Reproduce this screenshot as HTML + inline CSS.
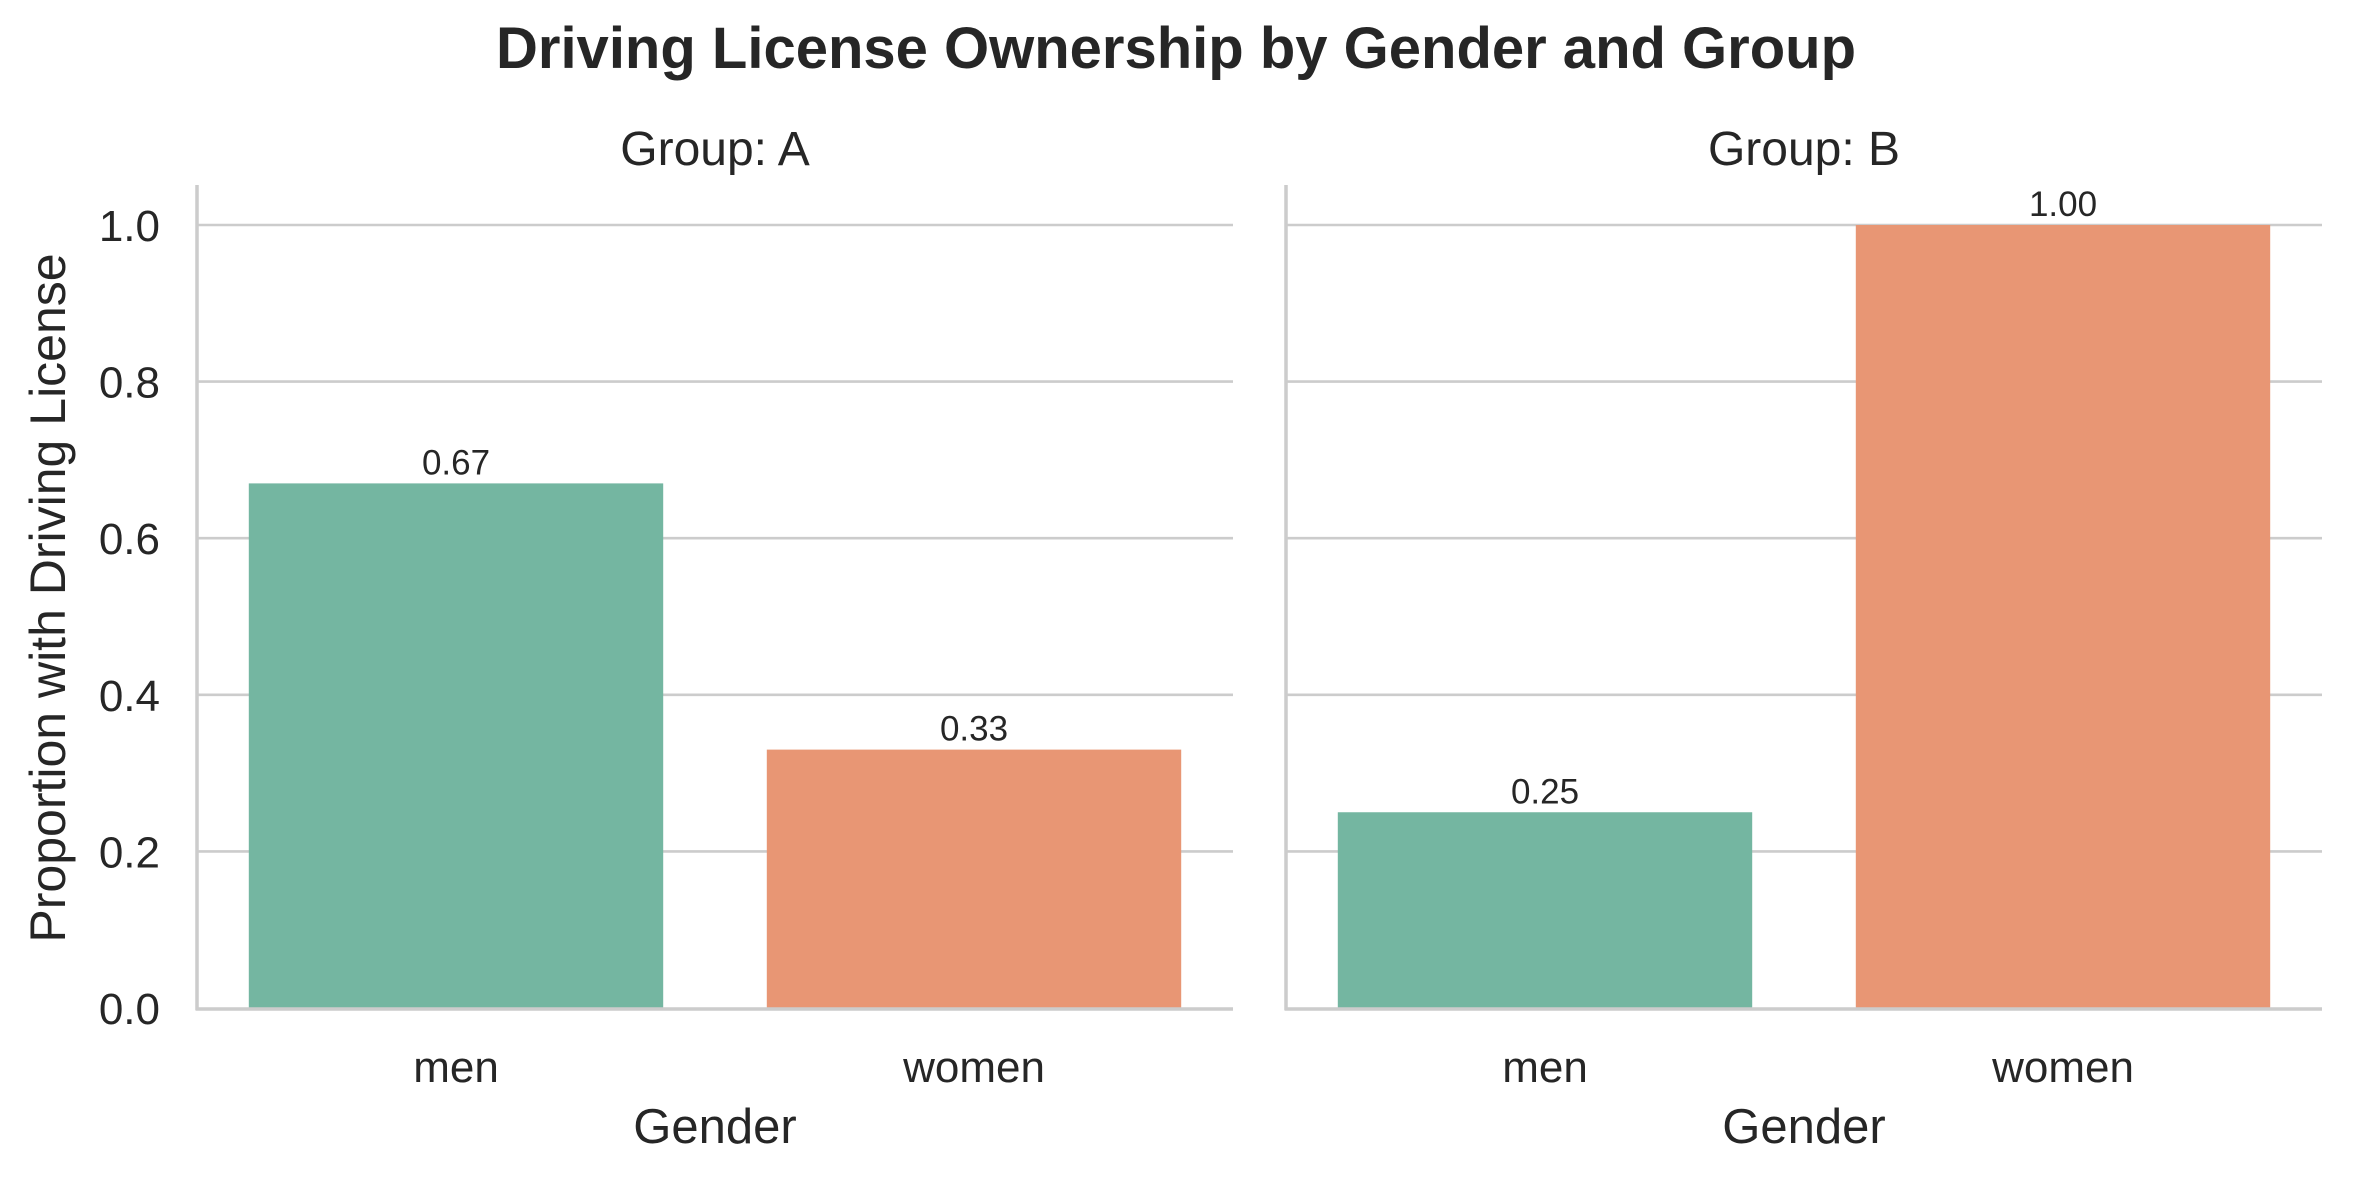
<!DOCTYPE html>
<html><head><meta charset="utf-8"><style>
html,body{margin:0;padding:0;background:#fff;}
svg{display:block;font-family:"Liberation Sans",Arial,sans-serif;fill:#262626;}
</style></head><body>
<svg id="chart" width="2353" height="1184" viewBox="0 0 2353 1184">
<text x="1176" y="68" font-size="58" font-weight="bold" text-anchor="middle">Driving License Ownership by Gender and Group</text>
<text transform="translate(65,598) rotate(-90)" font-size="50" text-anchor="middle">Proportion with Driving License</text>
<g id="plots"></g>
</svg>
<script>
const groups = ["A", "B"];
const categories = ["men", "women"];
const valuesA = [0.67, 0.33];
const valuesB = [0.25, 1.00];
const yTicks = [0, 0.2, 0.4, 0.6, 0.8, 1.0];
const tickLabels = ["0.0", "0.2", "0.4", "0.6", "0.8", "1.0"];
const series = [valuesA, valuesB];
const colors = ["#74b6a1", "#e89674"];

const NS = "http://www.w3.org/2000/svg";
const g = document.getElementById("plots");
const y0 = 1008, y1 = 225;
function yPos(v){ return y0 + (y1 - y0) * v; }
const panels = [{x0:197, x1:1233}, {x0:1286, x1:2322}];
function mk(tag, attrs){ const e = document.createElementNS(NS, tag); for (const k in attrs) e.setAttribute(k, attrs[k]); g.appendChild(e); return e; }

panels.forEach((p, pi) => {
  const w = p.x1 - p.x0;
  const band = w / categories.length;
  function xCenter(i){ return p.x0 + band * (i + 0.5); }
  yTicks.forEach((t) => {
    if (t === 0) return;
    const l = mk("line", {x1:p.x0, x2:p.x1, y1:yPos(t), y2:yPos(t), stroke:"#cccccc", "stroke-width":2.6});
    
    
  });
  if (pi === 0) {
    yTicks.forEach((t, ti) => {
      const tx = mk("text", {x:160, y:yPos(t) + 16, "font-size":44, "text-anchor":"end"});
      tx.textContent = tickLabels[ti];
      
      
    });
  }
  series[pi].forEach((v, i) => {
    const bw = band * 0.8;
    const r = mk("rect", {x:xCenter(i) - bw/2, y:yPos(v), width:bw, height:y0 - yPos(v), fill:colors[i]});
    
    
    const lb = mk("text", {x:xCenter(i), y:yPos(v) - 9, "font-size":35, "text-anchor":"middle"});
    lb.textContent = v.toFixed(2);
    
    
    const xl = mk("text", {x:xCenter(i), y:1082, "font-size":44, "text-anchor":"middle"});
    xl.textContent = categories[i];
    
    
  });
  const ax = mk("line", {x1:p.x0, x2:p.x0, y1:185, y2:1010, stroke:"#cccccc", "stroke-width":3.5});
  
  
  const bx = mk("line", {x1:p.x0 - 1.5, x2:p.x1, y1:1009, y2:1009, stroke:"#cccccc", "stroke-width":3.5});
  
  
  const st = mk("text", {x:(p.x0 + p.x1)/2, y:165, "font-size":48, "text-anchor":"middle"});
  st.textContent = "Group: " + groups[pi];
  
  
  const xt = mk("text", {x:(p.x0 + p.x1)/2, y:1143, "font-size":49, "text-anchor":"middle"});
  xt.textContent = "Gender";
  
  
});
</script>
</body></html>
